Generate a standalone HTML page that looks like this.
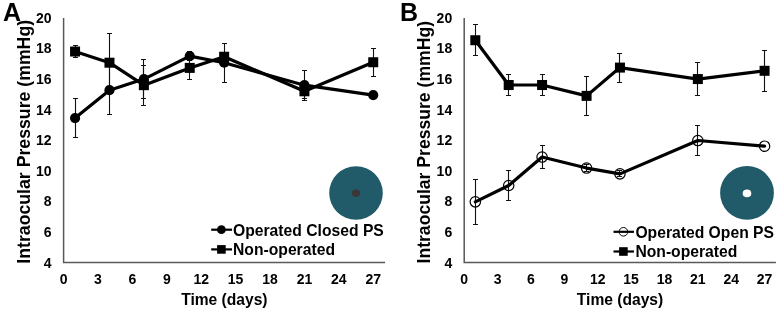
<!DOCTYPE html>
<html><head><meta charset="utf-8"><title>Intraocular Pressure</title>
<style>
html,body{margin:0;padding:0;background:#fff;}
body{width:778px;height:311px;overflow:hidden;font-family:"Liberation Sans",sans-serif;}
svg{display:block;will-change:transform;filter:blur(0.35px);}
</style></head>
<body>
<svg width="778" height="311" viewBox="0 0 778 311">
<rect width="778" height="311" fill="#fff"/>
<text x="3.0" y="20.7" font-size="25" font-family="'Liberation Sans', sans-serif" font-weight="bold">A</text>
<text x="400.0" y="20.5" font-size="25" font-family="'Liberation Sans', sans-serif" font-weight="bold">B</text>
<path d="M63.60 17.90V262.54H385.10" stroke="#595959" stroke-width="1.5" fill="none"/>
<text x="51.50" y="267.54" text-anchor="end" font-size="14" font-family="'Liberation Sans', sans-serif" font-weight="bold">4</text>
<text x="51.50" y="236.96" text-anchor="end" font-size="14" font-family="'Liberation Sans', sans-serif" font-weight="bold">6</text>
<text x="51.50" y="206.38" text-anchor="end" font-size="14" font-family="'Liberation Sans', sans-serif" font-weight="bold">8</text>
<text x="51.50" y="175.80" text-anchor="end" font-size="14" font-family="'Liberation Sans', sans-serif" font-weight="bold">10</text>
<text x="51.50" y="145.22" text-anchor="end" font-size="14" font-family="'Liberation Sans', sans-serif" font-weight="bold">12</text>
<text x="51.50" y="114.64" text-anchor="end" font-size="14" font-family="'Liberation Sans', sans-serif" font-weight="bold">14</text>
<text x="51.50" y="84.06" text-anchor="end" font-size="14" font-family="'Liberation Sans', sans-serif" font-weight="bold">16</text>
<text x="51.50" y="53.48" text-anchor="end" font-size="14" font-family="'Liberation Sans', sans-serif" font-weight="bold">18</text>
<text x="51.50" y="22.90" text-anchor="end" font-size="14" font-family="'Liberation Sans', sans-serif" font-weight="bold">20</text>
<text x="63.60" y="283.9" text-anchor="middle" font-size="14" font-family="'Liberation Sans', sans-serif" font-weight="bold">0</text>
<text x="98.00" y="283.9" text-anchor="middle" font-size="14" font-family="'Liberation Sans', sans-serif" font-weight="bold">3</text>
<text x="132.41" y="283.9" text-anchor="middle" font-size="14" font-family="'Liberation Sans', sans-serif" font-weight="bold">6</text>
<text x="166.81" y="283.9" text-anchor="middle" font-size="14" font-family="'Liberation Sans', sans-serif" font-weight="bold">9</text>
<text x="201.22" y="283.9" text-anchor="middle" font-size="14" font-family="'Liberation Sans', sans-serif" font-weight="bold">12</text>
<text x="235.62" y="283.9" text-anchor="middle" font-size="14" font-family="'Liberation Sans', sans-serif" font-weight="bold">15</text>
<text x="270.02" y="283.9" text-anchor="middle" font-size="14" font-family="'Liberation Sans', sans-serif" font-weight="bold">18</text>
<text x="304.43" y="283.9" text-anchor="middle" font-size="14" font-family="'Liberation Sans', sans-serif" font-weight="bold">21</text>
<text x="338.83" y="283.9" text-anchor="middle" font-size="14" font-family="'Liberation Sans', sans-serif" font-weight="bold">24</text>
<text x="373.24" y="283.9" text-anchor="middle" font-size="14" font-family="'Liberation Sans', sans-serif" font-weight="bold">27</text>
<text x="224.35" y="304.9" text-anchor="middle" font-size="15.6" font-family="'Liberation Sans', sans-serif" font-weight="bold">Time (days)</text>
<text transform="translate(29.60 141.8) rotate(-90)" x="0" y="0" text-anchor="middle" font-size="17.7" font-family="'Liberation Sans', sans-serif" font-weight="bold">Intraocular Pressure (mmHg)</text>
<path d="M464.20 17.90V262.54H775.90" stroke="#595959" stroke-width="1.5" fill="none"/>
<text x="452.20" y="267.54" text-anchor="end" font-size="14" font-family="'Liberation Sans', sans-serif" font-weight="bold">4</text>
<text x="452.20" y="236.96" text-anchor="end" font-size="14" font-family="'Liberation Sans', sans-serif" font-weight="bold">6</text>
<text x="452.20" y="206.38" text-anchor="end" font-size="14" font-family="'Liberation Sans', sans-serif" font-weight="bold">8</text>
<text x="452.20" y="175.80" text-anchor="end" font-size="14" font-family="'Liberation Sans', sans-serif" font-weight="bold">10</text>
<text x="452.20" y="145.22" text-anchor="end" font-size="14" font-family="'Liberation Sans', sans-serif" font-weight="bold">12</text>
<text x="452.20" y="114.64" text-anchor="end" font-size="14" font-family="'Liberation Sans', sans-serif" font-weight="bold">14</text>
<text x="452.20" y="84.06" text-anchor="end" font-size="14" font-family="'Liberation Sans', sans-serif" font-weight="bold">16</text>
<text x="452.20" y="53.48" text-anchor="end" font-size="14" font-family="'Liberation Sans', sans-serif" font-weight="bold">18</text>
<text x="452.20" y="22.90" text-anchor="end" font-size="14" font-family="'Liberation Sans', sans-serif" font-weight="bold">20</text>
<text x="464.20" y="283.9" text-anchor="middle" font-size="14" font-family="'Liberation Sans', sans-serif" font-weight="bold">0</text>
<text x="497.57" y="283.9" text-anchor="middle" font-size="14" font-family="'Liberation Sans', sans-serif" font-weight="bold">3</text>
<text x="530.95" y="283.9" text-anchor="middle" font-size="14" font-family="'Liberation Sans', sans-serif" font-weight="bold">6</text>
<text x="564.33" y="283.9" text-anchor="middle" font-size="14" font-family="'Liberation Sans', sans-serif" font-weight="bold">9</text>
<text x="597.70" y="283.9" text-anchor="middle" font-size="14" font-family="'Liberation Sans', sans-serif" font-weight="bold">12</text>
<text x="631.08" y="283.9" text-anchor="middle" font-size="14" font-family="'Liberation Sans', sans-serif" font-weight="bold">15</text>
<text x="664.45" y="283.9" text-anchor="middle" font-size="14" font-family="'Liberation Sans', sans-serif" font-weight="bold">18</text>
<text x="697.83" y="283.9" text-anchor="middle" font-size="14" font-family="'Liberation Sans', sans-serif" font-weight="bold">21</text>
<text x="731.20" y="283.9" text-anchor="middle" font-size="14" font-family="'Liberation Sans', sans-serif" font-weight="bold">24</text>
<text x="764.58" y="283.9" text-anchor="middle" font-size="14" font-family="'Liberation Sans', sans-serif" font-weight="bold">27</text>
<text x="620.05" y="304.9" text-anchor="middle" font-size="15.6" font-family="'Liberation Sans', sans-serif" font-weight="bold">Time (days)</text>
<text transform="translate(429.60 142.25) rotate(-90)" x="0" y="0" text-anchor="middle" font-size="17.6" font-family="'Liberation Sans', sans-serif" font-weight="bold">Intraocular Pressure (mmHg)</text>
<circle cx="356" cy="193" r="26.8" fill="#215a69"/>
<ellipse cx="356" cy="193.2" rx="4.1" ry="3.7" fill="#3d3637"/>
<circle cx="747" cy="192.9" r="26.9" fill="#215a69"/>
<ellipse cx="747" cy="193.4" rx="4.3" ry="3.8" fill="#fff"/>
<path d="M211.20 229.70H232.00" stroke="#000" stroke-width="2.2"/>
<circle cx="221.40" cy="229.70" r="4.4" fill="#000"/>
<text x="233.00" y="235.50" font-size="15.7" font-family="'Liberation Sans', sans-serif" font-weight="bold">Operated Closed PS</text>
<path d="M211.20 249.40H232.00" stroke="#000" stroke-width="2.2"/>
<rect x="217.10" y="245.10" width="8.6" height="8.6" fill="#000"/>
<text x="233.00" y="255.20" font-size="15.7" font-family="'Liberation Sans', sans-serif" font-weight="bold">Non-operated</text>
<path d="M613.50 231.80H634.00" stroke="#000" stroke-width="2.2"/>
<circle cx="623.40" cy="231.80" r="4.3" fill="none" stroke="#000" stroke-width="1"/>
<text x="635.40" y="237.60" font-size="15.7" font-family="'Liberation Sans', sans-serif" font-weight="bold">Operated Open PS</text>
<path d="M613.50 251.50H634.00" stroke="#000" stroke-width="2.2"/>
<rect x="619.10" y="247.20" width="8.6" height="8.6" fill="#000"/>
<text x="635.40" y="257.30" font-size="15.7" font-family="'Liberation Sans', sans-serif" font-weight="bold">Non-operated</text>
<path d="M75.50 98.50V137.50M73.00 98.50h5.00M73.00 137.50h5.00" stroke="#111" stroke-width="1.1" fill="none"/>
<path d="M109.50 65.50V114.50M107.00 65.50h5.00M107.00 114.50h5.00" stroke="#111" stroke-width="1.1" fill="none"/>
<path d="M143.50 59.50V98.50M141.00 59.50h5.00M141.00 98.50h5.00" stroke="#111" stroke-width="1.1" fill="none"/>
<path d="M189.50 51.50V60.50M187.00 51.50h5.00M187.00 60.50h5.00" stroke="#111" stroke-width="1.1" fill="none"/>
<path d="M224.50 43.50V82.50M222.00 43.50h5.00M222.00 82.50h5.00" stroke="#111" stroke-width="1.1" fill="none"/>
<path d="M304.50 70.50V100.50M302.00 70.50h5.00M302.00 100.50h5.00" stroke="#111" stroke-width="1.1" fill="none"/>
<path d="M373.50 92.50V98.50M371.00 92.50h5.00M371.00 98.50h5.00" stroke="#111" stroke-width="1.1" fill="none"/>
<path d="M75.50 45.50V57.50M73.00 45.50h5.00M73.00 57.50h5.00" stroke="#111" stroke-width="1.1" fill="none"/>
<path d="M109.50 33.50V92.50M107.00 33.50h5.00M107.00 92.50h5.00" stroke="#111" stroke-width="1.1" fill="none"/>
<path d="M143.50 65.50V105.50M141.00 65.50h5.00M141.00 105.50h5.00" stroke="#111" stroke-width="1.1" fill="none"/>
<path d="M189.50 56.50V79.50M187.00 56.50h5.00M187.00 79.50h5.00" stroke="#111" stroke-width="1.1" fill="none"/>
<path d="M224.50 52.50V61.50M222.00 52.50h5.00M222.00 61.50h5.00" stroke="#111" stroke-width="1.1" fill="none"/>
<path d="M304.50 83.50V98.50M302.00 83.50h5.00M302.00 98.50h5.00" stroke="#111" stroke-width="1.1" fill="none"/>
<path d="M373.50 48.50V76.50M371.00 48.50h5.00M371.00 76.50h5.00" stroke="#111" stroke-width="1.1" fill="none"/>
<polyline points="75.07,118.05 109.47,90.22 143.88,79.06 189.75,56.12 224.15,62.70 304.43,85.18 373.24,95.11" fill="none" stroke="#000" stroke-width="3.2" stroke-linejoin="round" stroke-linecap="round"/>
<polyline points="75.07,51.54 109.47,62.70 143.88,85.18 189.75,67.90 224.15,56.74 304.43,91.29 373.24,62.24" fill="none" stroke="#000" stroke-width="3.2" stroke-linejoin="round" stroke-linecap="round"/>
<circle cx="75.07" cy="118.05" r="5.1" fill="#000"/>
<circle cx="109.47" cy="90.22" r="5.1" fill="#000"/>
<circle cx="143.88" cy="79.06" r="5.1" fill="#000"/>
<circle cx="189.75" cy="56.12" r="5.1" fill="#000"/>
<circle cx="224.15" cy="62.70" r="5.1" fill="#000"/>
<circle cx="304.43" cy="85.18" r="5.1" fill="#000"/>
<circle cx="373.24" cy="95.11" r="5.1" fill="#000"/>
<rect x="70.07" y="46.54" width="10.0" height="10.0" fill="#000"/>
<rect x="104.47" y="57.70" width="10.0" height="10.0" fill="#000"/>
<rect x="138.88" y="80.18" width="10.0" height="10.0" fill="#000"/>
<rect x="184.75" y="62.90" width="10.0" height="10.0" fill="#000"/>
<rect x="219.15" y="51.74" width="10.0" height="10.0" fill="#000"/>
<rect x="299.43" y="86.29" width="10.0" height="10.0" fill="#000"/>
<rect x="368.24" y="57.24" width="10.0" height="10.0" fill="#000"/>
<path d="M475.50 24.50V55.50M473.00 24.50h5.00M473.00 55.50h5.00" stroke="#111" stroke-width="1.1" fill="none"/>
<path d="M508.50 74.50V95.50M506.00 74.50h5.00M506.00 95.50h5.00" stroke="#111" stroke-width="1.1" fill="none"/>
<path d="M542.50 74.50V95.50M540.00 74.50h5.00M540.00 95.50h5.00" stroke="#111" stroke-width="1.1" fill="none"/>
<path d="M586.50 76.50V115.50M584.00 76.50h5.00M584.00 115.50h5.00" stroke="#111" stroke-width="1.1" fill="none"/>
<path d="M619.50 53.50V82.50M617.00 53.50h5.00M617.00 82.50h5.00" stroke="#111" stroke-width="1.1" fill="none"/>
<path d="M697.50 62.50V95.50M695.00 62.50h5.00M695.00 95.50h5.00" stroke="#111" stroke-width="1.1" fill="none"/>
<path d="M764.50 50.50V91.50M762.00 50.50h5.00M762.00 91.50h5.00" stroke="#111" stroke-width="1.1" fill="none"/>
<path d="M475.50 179.50V224.50M473.00 179.50h5.00M473.00 224.50h5.00" stroke="#111" stroke-width="1.1" fill="none"/>
<path d="M508.50 170.50V200.50M506.00 170.50h5.00M506.00 200.50h5.00" stroke="#111" stroke-width="1.1" fill="none"/>
<path d="M542.50 145.50V168.50M540.00 145.50h5.00M540.00 168.50h5.00" stroke="#111" stroke-width="1.1" fill="none"/>
<path d="M586.50 164.50V171.50M584.00 164.50h5.00M584.00 171.50h5.00" stroke="#111" stroke-width="1.1" fill="none"/>
<path d="M619.50 170.50V176.50M617.00 170.50h5.00M617.00 176.50h5.00" stroke="#111" stroke-width="1.1" fill="none"/>
<path d="M697.50 125.50V155.50M695.00 125.50h5.00M695.00 155.50h5.00" stroke="#111" stroke-width="1.1" fill="none"/>
<polyline points="475.32,40.22 508.70,85.02 542.08,85.02 586.58,95.88 619.95,67.59 697.83,79.06 764.58,70.80" fill="none" stroke="#000" stroke-width="3.2" stroke-linejoin="round" stroke-linecap="round"/>
<polyline points="475.32,201.84 508.70,185.48 542.08,157.04 586.58,168.05 619.95,173.86 697.83,140.53 764.58,146.18" fill="none" stroke="#000" stroke-width="3.2" stroke-linejoin="round" stroke-linecap="round"/>
<rect x="470.32" y="35.22" width="10.0" height="10.0" fill="#000"/>
<rect x="503.70" y="80.02" width="10.0" height="10.0" fill="#000"/>
<rect x="537.08" y="80.02" width="10.0" height="10.0" fill="#000"/>
<rect x="581.58" y="90.88" width="10.0" height="10.0" fill="#000"/>
<rect x="614.95" y="62.59" width="10.0" height="10.0" fill="#000"/>
<rect x="692.83" y="74.06" width="10.0" height="10.0" fill="#000"/>
<rect x="759.58" y="65.80" width="10.0" height="10.0" fill="#000"/>
<circle cx="475.32" cy="201.84" r="5.2" fill="none" stroke="#000" stroke-width="1.2"/>
<circle cx="508.70" cy="185.48" r="5.2" fill="none" stroke="#000" stroke-width="1.2"/>
<circle cx="542.08" cy="157.04" r="5.2" fill="none" stroke="#000" stroke-width="1.2"/>
<circle cx="586.58" cy="168.05" r="5.2" fill="none" stroke="#000" stroke-width="1.2"/>
<circle cx="619.95" cy="173.86" r="5.2" fill="none" stroke="#000" stroke-width="1.2"/>
<circle cx="697.83" cy="140.53" r="5.2" fill="none" stroke="#000" stroke-width="1.2"/>
<circle cx="764.58" cy="146.18" r="5.2" fill="none" stroke="#000" stroke-width="1.2"/>
</svg>
</body></html>
